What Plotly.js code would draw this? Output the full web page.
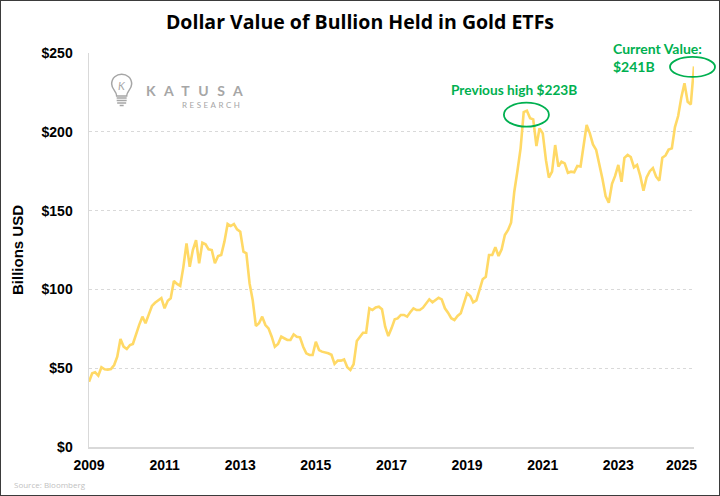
<!DOCTYPE html>
<html><head><meta charset="utf-8">
<script src="https://cdn.plot.ly/plotly-3.0.1.min.js"></script>
<style>
html,body{margin:0;padding:0;background:#fff;}
#wrap{width:720px;height:496px;box-sizing:border-box;border:1px solid #3b3b3b;overflow:hidden;}
#chart{width:718px;height:494px;}
</style></head><body>
<div id="wrap"><div id="chart"></div></div>
<script>
// ---- data ----
const months = [
 '2009-01','2009-02','2009-03','2009-04','2009-05','2009-06','2009-07','2009-08','2009-09','2009-10','2009-11','2009-12',
 '2010-01','2010-02','2010-03','2010-04','2010-05','2010-06','2010-07','2010-08','2010-09','2010-10','2010-11','2010-12',
 '2011-01','2011-02','2011-03','2011-04','2011-05','2011-06','2011-07','2011-08','2011-09','2011-10','2011-11','2011-12',
 '2012-01','2012-02','2012-03','2012-04','2012-05','2012-06','2012-07','2012-08','2012-09','2012-10','2012-11','2012-12',
 '2013-01','2013-02','2013-03','2013-04','2013-05','2013-06','2013-07','2013-08','2013-09','2013-10','2013-11','2013-12',
 '2014-01','2014-02','2014-03','2014-04','2014-05','2014-06','2014-07','2014-08','2014-09','2014-10','2014-11','2014-12',
 '2015-01','2015-02','2015-03','2015-04','2015-05','2015-06','2015-07','2015-08','2015-09','2015-10','2015-11','2015-12',
 '2016-01','2016-02','2016-03','2016-04','2016-05','2016-06','2016-07','2016-08','2016-09','2016-10','2016-11','2016-12',
 '2017-01','2017-02','2017-03','2017-04','2017-05','2017-06','2017-07','2017-08','2017-09','2017-10','2017-11','2017-12',
 '2018-01','2018-02','2018-03','2018-04','2018-05','2018-06','2018-07','2018-08','2018-09','2018-10','2018-11','2018-12',
 '2019-01','2019-02','2019-03','2019-04','2019-05','2019-06','2019-07','2019-08','2019-09','2019-10','2019-11','2019-12',
 '2020-01','2020-02','2020-03','2020-04','2020-05','2020-06','2020-07','2020-08','2020-09','2020-10','2020-11','2020-12',
 '2021-01','2021-02','2021-03','2021-04','2021-05','2021-06','2021-07','2021-08','2021-09','2021-10','2021-11','2021-12',
 '2022-01','2022-02','2022-03','2022-04','2022-05','2022-06','2022-07','2022-08','2022-09','2022-10','2022-11','2022-12',
 '2023-01','2023-02','2023-03','2023-04','2023-05','2023-06','2023-07','2023-08','2023-09','2023-10','2023-11','2023-12',
 '2024-01','2024-02','2024-03','2024-04','2024-05','2024-06','2024-07','2024-08','2024-09','2024-10','2024-11','2024-12',
 '2025-01'
];
const valuesBn = [
 41.4,46.8,47.4,45.3,50.6,49.3,49.0,49.5,52.0,57.3,68.5,63.7,
 62.2,64.7,65.4,72.1,77.5,82.7,78.5,84.0,89.5,91.5,93.0,94.5,
 88.0,92.8,94.3,105.3,103.5,102.2,114.0,129.2,114.4,125.0,131.3,116.5,
 129.6,128.6,125.4,125.0,116.6,121.2,121.8,130.3,141.5,140.2,141.5,138.1,
 136.6,123.9,122.9,103.8,93.3,76.8,78.5,82.7,77.4,75.3,70.0,63.6,
 65.4,70.0,69.0,67.9,67.9,71.5,70.0,69.6,63.6,59.4,58.4,58.4,
 66.8,61.5,60.5,60.1,59.5,58.5,52.7,54.8,54.8,55.6,50.6,48.9,
 52.5,67.3,69.6,72.5,72.5,88.0,86.9,88.5,89.0,87.4,76.3,70.4,
 75.3,81.0,81.6,83.8,83.8,82.7,85.5,88.0,86.9,86.9,88.4,91.0,
 93.7,91.8,93.3,94.7,93.7,88.0,85.2,81.7,80.6,83.1,84.8,91.6,
 97.5,95.8,91.8,93.0,99.0,106.5,108.0,121.8,121.8,126.7,121.2,125.4,
 134.5,137.7,142.3,162.0,175.0,189.5,212.5,213.4,208.6,207.9,191.0,202.2,
 199.0,182.0,171.0,174.7,191.6,178.0,181.0,180.0,174.0,174.7,174.3,178.3,
 178.0,192.0,204.3,199.0,192.0,188.5,180.0,170.0,159.0,155.0,167.0,172.0,
 179.0,168.3,183.5,185.3,184.0,177.5,179.0,172.0,162.6,171.0,175.0,177.0,
 171.5,169.0,183.5,185.0,188.7,189.5,203.0,210.0,222.0,230.8,219.0,217.4,
 241.5
];
const xTickDates  = ['2009-01-01','2011-01-01','2013-01-01','2015-01-01','2017-01-01','2019-01-01','2021-01-01','2023-01-01','2025-01-01'];
const xTickLabels = ['2009','2011','2013','2015','2017','2019','2021','2023','2025'];
const yTickValues = [0,50,100,150,200,250];
const yTickLabels = ['$0','$50','$100','$150','$200','$250'];
const xRange = ['2009-01-01','2025-01-01'];
const yRange = [0,250];
const chartTitle = 'Dollar Value of Bullion Held in Gold ETFs';
const yTitle = 'Billions USD';
const highNote = 'Previous high $223B';
const highSearchEnd = '2022-01';   // the "previous high" is the 2020 peak
const currentNote = 'Current Value:<br>$241B';
const sourceNote = 'Source: Bloomberg';

// ---- helpers ----
const t0 = Date.parse(xRange[0]), t1 = Date.parse(xRange[1]);
const fx = d => (Date.parse(d + (d.length === 7 ? '-01' : '')) - t0) / (t1 - t0);
const fy = v => (v - yRange[0]) / (yRange[1] - yRange[0]);

let hi = 0;
for (let i = 0; i < valuesBn.length && months[i] < highSearchEnd; i++) if (valuesBn[i] > valuesBn[hi]) hi = i;
const last = valuesBn.length - 1;

const GREEN = '#00B050';
const GRAY = '#a6a6a6';
const TICKFONT = {family: '"Liberation Sans", Arial, sans-serif', size: 14, color: '#000', weight: 'bold'};

// the last year label sits pulled inside the plot edge (as in the original);
// draw it as an annotation and leave its regular tick label empty
const lastTick = xTickDates.length - 1;
const shownTickText = xTickLabels.map((t, i) => i === lastTick ? '' : t);

const trace = {
  type: 'scatter', mode: 'lines',
  x: months, y: valuesBn,
  line: {color: '#FFD966', width: 2.6},
  hoverinfo: 'x+y'
};

const layout = {
  width: 718, height: 494,
  margin: {l: 88, r: 25, t: 52, b: 48},
  paper_bgcolor: '#ffffff', plot_bgcolor: '#ffffff',
  showlegend: false,
  title: {
    text: '<b>' + chartTitle + '</b>',
    font: {family: '"Open Sans", Lato, sans-serif', size: 19.5, color: '#000'},
    x: 0.5, xref: 'container', xanchor: 'center',
    y: 1 - 21/494, yref: 'container', yanchor: 'middle'
  },
  xaxis: {
    type: 'date', range: xRange,
    tickmode: 'array', tickvals: xTickDates, ticktext: shownTickText,
    tickfont: TICKFONT,
    showgrid: false, zeroline: false,
    showline: true, linecolor: '#d9d9d9', linewidth: 1.5,
    ticks: '', ticklabelstandoff: 5, fixedrange: true
  },
  yaxis: {
    range: yRange,
    tickmode: 'array', tickvals: yTickValues, ticktext: yTickLabels,
    tickfont: TICKFONT,
    showgrid: true, gridcolor: '#d9d9d9', gridwidth: 1, griddash: '3px,3px',
    zeroline: false, showline: true, linecolor: '#d9d9d9', linewidth: 1.5,
    ticks: '', ticklabelstandoff: 12, fixedrange: true,
    title: {text: yTitle, standoff: 14,
      font: {family: '"Liberation Sans", Arial, sans-serif', size: 15, color: '#000', weight: 'bold'}}
  },
  shapes: [
    {type: 'circle', xref: 'paper', yref: 'paper', xsizemode: 'pixel', ysizemode: 'pixel',
     xanchor: fx(months[hi]), yanchor: fy(valuesBn[hi]), x0: -23, x1: 22, y0: -16, y1: 8,
     line: {color: GREEN, width: 1.8}},
    {type: 'circle', xref: 'paper', yref: 'paper', xsizemode: 'pixel', ysizemode: 'pixel',
     xanchor: fx(months[last]), yanchor: fy(valuesBn[last]), x0: -24, x1: 21, y0: -10.5, y1: 9.5,
     line: {color: GREEN, width: 1.8}},
    // logo bulb
    {type: 'path', xref: 'paper', yref: 'paper', xsizemode: 'pixel', ysizemode: 'pixel',
     xanchor: 0.054, yanchor: 0.911,
     path: 'M -5 -8 C -5 -3 -10 -1 -10 4 C -10 17 10 17 10 4 C 10 -1 5 -3 5 -8 Z',
     line: {color: GRAY, width: 1.5}},
    {type: 'path', xref: 'paper', yref: 'paper', xsizemode: 'pixel', ysizemode: 'pixel',
     xanchor: 0.054, yanchor: 0.911,
     path: 'M -5 -10 L 5 -10 M -5 -12.5 L 5 -12.5 M -4.5 -15 L 4.5 -15 M -2 -17.5 L 2 -17.5',
     line: {color: GRAY, width: 1.5}}
  ],
  annotations: [
    {xref: 'paper', yref: 'paper', x: fx(xTickDates[lastTick]), xshift: -13, y: -0.0457,
     xanchor: 'center', yanchor: 'middle', text: xTickLabels[lastTick], showarrow: false,
     font: TICKFONT},
    {xref: 'paper', yref: 'paper', x: 0.7025, y: 0.9086, xanchor: 'center', yanchor: 'middle',
     text: '<b>' + highNote + '</b>', showarrow: false,
     font: {family: 'Lato, sans-serif', size: 13.7, color: GREEN}},
    {xref: 'paper', yref: 'paper', x: 0.8628, y: 0.9898, xanchor: 'left', yanchor: 'middle', align: 'left',
     text: '<b>' + currentNote + '</b>', showarrow: false,
     font: {family: 'Lato, sans-serif', size: 14, color: GREEN}},
    // logo text
    {xref: 'paper', yref: 'paper', x: 0.0909, y: 0.9036, xanchor: 'left', yanchor: 'middle',
     text: '<span style="letter-spacing:8.5px">KATUSA</span>', showarrow: false,
     font: {family: 'Lato, sans-serif', size: 14, color: GRAY, weight: 'bold'}},
    {xref: 'paper', yref: 'paper', x: 0.1504, y: 0.8668, xanchor: 'left', yanchor: 'middle',
     text: '<span style="letter-spacing:2.5px">RESEARCH</span>', showarrow: false,
     font: {family: 'Lato, sans-serif', size: 8, color: GRAY}},
    {xref: 'paper', yref: 'paper', x: 0.054, y: 0.918, xanchor: 'center', yanchor: 'middle',
     text: '<i>K</i>', showarrow: false,
     font: {family: 'Lato, sans-serif', size: 11, color: GRAY}},
    // source
    {xref: 'paper', yref: 'paper', x: -0.1273, y: -0.094, xanchor: 'left', yanchor: 'middle',
     text: sourceNote, showarrow: false,
     font: {family: '"Open Sans", sans-serif', size: 8, color: '#bfbfbf'}}
  ]
};

Plotly.newPlot('chart', [trace], layout, {displayModeBar: false, staticPlot: true});
</script>
</body></html>
